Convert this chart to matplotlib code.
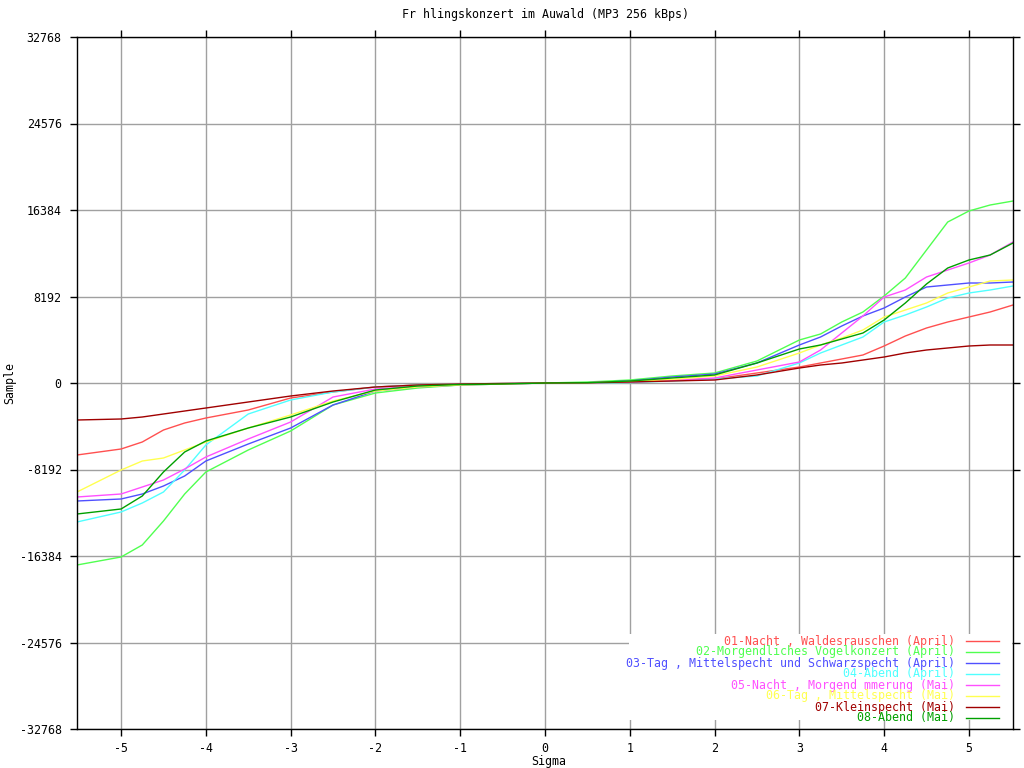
import numpy as np
import matplotlib
matplotlib.use("Agg")
import matplotlib.pyplot as plt
from matplotlib.patches import Rectangle

# sigma positions (x) shared by all series
sigma = [-5.52, -5.0, -4.75, -4.5, -4.25, -4.0, -3.5, -3.0, -2.5, -2.0, -1.5, -1.0, -0.5, 0.0,
         0.5, 1.0, 1.5, 2.0, 2.5, 3.0, 3.25, 3.5, 3.75, 4.0, 4.25, 4.5, 4.75, 5.0, 5.25, 5.52]

s01 = [-6818, -6250, -5587, -4451, -3788, -3315, -2557, -1421, -852, -379, -189, -95, -47, 0,
       19, 95, 284, 379, 947, 1515, 1894, 2273, 2652, 3504, 4451, 5209, 5777, 6250, 6724, 7387]
s02 = [-17235, -16478, -15341, -13069, -10512, -8428, -6345, -4546, -2083, -947, -474, -189, -95, 0,
       95, 284, 663, 947, 2083, 4072, 4640, 5777, 6724, 8239, 9943, 12595, 15247, 16288, 16857, 17235]
s03 = [-11175, -10985, -10512, -9754, -8807, -7387, -5777, -4262, -2083, -758, -379, -189, -95, 0,
       28, 189, 568, 852, 1894, 3599, 4356, 5398, 6345, 7103, 8144, 9091, 9281, 9470, 9470, 9565]
s04 = [-13163, -12216, -11364, -10322, -8239, -5871, -2936, -1610, -852, -379, -189, -95, -47, 0,
       0, 47, 189, 379, 663, 1894, 2841, 3599, 4356, 5777, 6440, 7197, 8050, 8523, 8807, 9186]
s05 = [-10796, -10512, -9849, -9186, -8144, -7008, -5303, -3693, -1326, -568, -284, -142, -95, 0,
       28, 95, 237, 474, 1231, 1989, 3125, 4735, 6345, 8144, 8807, 10038, 10701, 11364, 12122, 13353]
s06 = [-10322, -8239, -7387, -7103, -6345, -5587, -4262, -3030, -1705, -758, -379, -189, -95, 0,
       28, 142, 331, 663, 1515, 2841, 3599, 4262, 5019, 6250, 6913, 7576, 8523, 9091, 9659, 9754]
s07 = [-3504, -3409, -3220, -2936, -2652, -2368, -1799, -1231, -758, -379, -189, -95, -47, 0,
       19, 95, 189, 284, 758, 1420, 1705, 1894, 2178, 2462, 2841, 3125, 3315, 3504, 3599, 3599]
s08 = [-12406, -11932, -10701, -8428, -6534, -5493, -4262, -3220, -1799, -663, -284, -142, -95, 0,
       28, 189, 474, 758, 1894, 3220, 3599, 4167, 4735, 5966, 7576, 9375, 10891, 11648, 12122, 13258]

labels = [
    "01-Nacht , Waldesrauschen (April)",
    "02-Morgendliches Vogelkonzert (April)",
    "03-Tag , Mittelspecht und Schwarzspecht (April)",
    "04-Abend (April)",
    "05-Nacht , Morgend mmerung (Mai)",
    "06-Tag , Mittelspecht (Mai)",
    "07-Kleinspecht (Mai)",
    "08-Abend (Mai)",
]
series = [s01, s02, s03, s04, s05, s06, s07, s08]
colors = ['#ff5050', '#50ff50', '#5050ff', '#50ffff', '#ff50ff', '#ffff50', '#a00000', '#00a000']

yticks = [-32768, -24576, -16384, -8192, 0, 8192, 16384, 24576, 32768]
xticks = [-5, -4, -3, -2, -1, 0, 1, 2, 3, 4, 5]

plt.rcParams['font.family'] = ['DejaVu Sans Mono']
fs = 8.4

fig = plt.figure(figsize=(10.24, 7.68), dpi=100)
ax = fig.add_axes([77 / 1024, 39 / 768, 936 / 1024, 692 / 768])

for ys, c, lab in zip(series, colors, labels):
    ax.plot(sigma, ys, color=c, lw=1.0, label=lab, zorder=2)

ax.set_xlim(-5.52, 5.52)
ax.set_ylim(-32768, 32768)
ax.set_xticks(xticks)
ax.set_yticks(yticks)
ax.set_xticklabels([str(v) for v in xticks], fontsize=fs)
ax.set_yticklabels([str(v) for v in yticks], fontsize=fs)
ax.tick_params(direction='out', length=5, width=1, top=True, right=True,
               labeltop=False, labelright=False, pad=4)
ax.tick_params(axis='y', pad=6)
ax.grid(True, color='#a0a0a0', lw=1, zorder=0)
ax.set_axisbelow(True)
for sp in ax.spines.values():
    sp.set_linewidth(1)

ax.set_title("Fr hlingskonzert im Auwald (MP3 256 kBps)", fontsize=fs, pad=14)
ax.set_xlabel("Sigma", fontsize=fs, va='center')
ax.xaxis.set_label_coords(0.5045, (729 - 762) / 692)
ax.set_ylabel("Sample", fontsize=fs, va='center')
ax.yaxis.set_label_coords((10 - 77) / 936, 0.5)

# key: white box bottom right, text right aligned, line sample after it
ax.add_patch(Rectangle((0.590, 0.013), 0.409, 0.124, transform=ax.transAxes,
                       facecolor='white', edgecolor='none', zorder=3))
for i, (c, lab) in enumerate(zip(colors, labels)):
    yf = (729 - (641 + 11 * i)) / 692
    ax.text(0.938, yf, lab, color=c, fontsize=fs, ha='right', va='center',
            transform=ax.transAxes, zorder=4)
    ax.plot([0.950, 0.985], [yf, yf], color=c, lw=1.0, transform=ax.transAxes, zorder=4)

fig.savefig("out.png", dpi=100)
